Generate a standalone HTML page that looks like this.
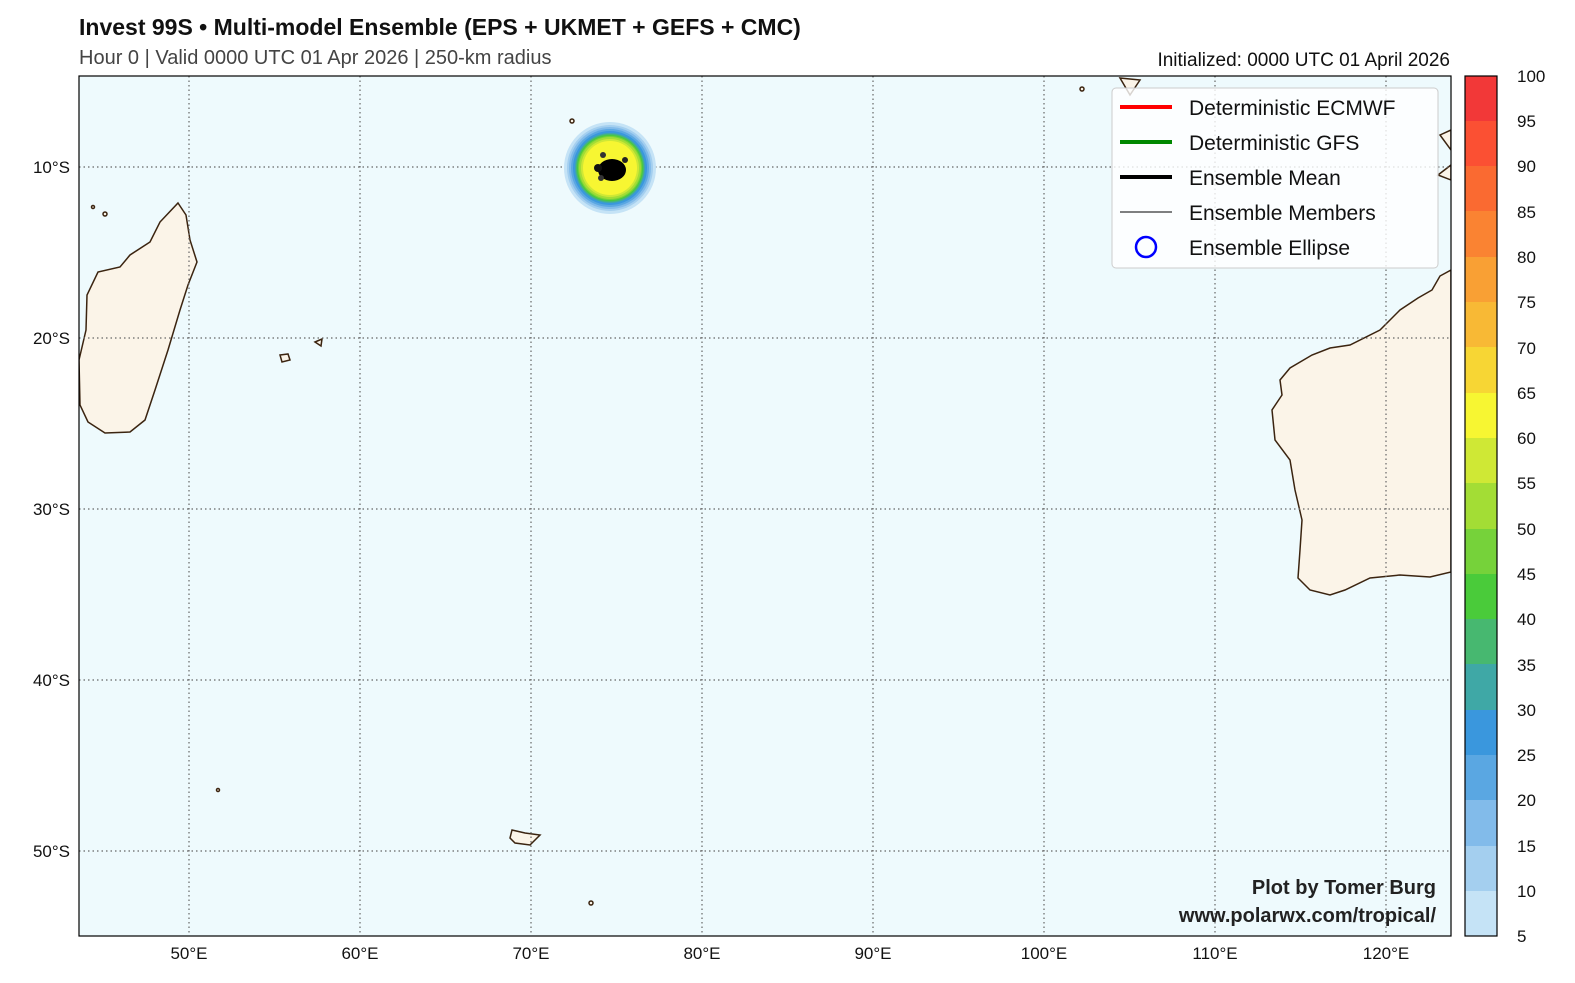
<!DOCTYPE html>
<html><head><meta charset="utf-8"><style>
body{margin:0;background:#fff;width:1575px;height:978px;overflow:hidden;font-family:"Liberation Sans","DejaVu Sans",sans-serif;}
</style></head><body>
<svg width="1575" height="978" xmlns="http://www.w3.org/2000/svg" font-family="Liberation Sans, DejaVu Sans, sans-serif">
<text x="79" y="35" font-size="23" font-weight="bold" fill="#111">Invest 99S • Multi-model Ensemble (EPS + UKMET + GEFS + CMC)</text>
<text x="79" y="64" font-size="20" fill="#444">Hour 0 | Valid 0000 UTC 01 Apr 2026 | 250-km radius</text>
<text x="1450" y="66" font-size="19" fill="#111" text-anchor="end">Initialized: 0000 UTC 01 April 2026</text>
<defs><clipPath id="c"><rect x="79" y="76" width="1372" height="860"/></clipPath></defs>
<rect x="79" y="76" width="1372" height="860" fill="#eefafd"/>
<g clip-path="url(#c)" fill="#fbf4e8" stroke="#3b2410" stroke-width="1.5">
<path d="M178,203 L186,215 L190,240 L197,262 L188,285 L180,310 L168,350 L155,390 L145,420 L130,432 L105,433 L88,422 L80,405 L79,360 L86,330 L87,295 L98,272 L120,267 L130,255 L150,242 L160,222 Z"/>
<path d="M1451,270 L1440,276 L1432,290 L1418,298 L1400,310 L1380,330 L1350,345 L1330,348 L1312,355 L1290,368 L1280,380 L1282,395 L1272,410 L1275,440 L1290,460 L1295,490 L1302,520 L1300,550 L1298,578 L1310,590 L1330,595 L1345,590 L1370,578 L1400,575 L1430,577 L1451,572 Z"/>
<path d="M280,355 L288,354 L290,360 L282,362 Z"/>
<path d="M315,342 L322,339 L321,346 Z"/>
<path d="M512,830 L525,833 L540,835 L530,845 L515,843 L510,838 Z"/>
<path d="M1120,78 L1140,80 L1130,95 Z"/>
<path d="M1440,135 L1451,130 L1451,150 Z"/>
<path d="M1438,175 L1451,165 L1451,180 Z"/>
<circle cx="218" cy="790" r="1.5"/><circle cx="591" cy="903" r="2"/><circle cx="572" cy="121" r="2"/>
<circle cx="93" cy="207" r="1.5"/><circle cx="105" cy="214" r="2"/><circle cx="1082" cy="89" r="2"/>
</g>
<g stroke="#666" stroke-width="1.2" stroke-dasharray="1.5,3">
<line x1="189" y1="76" x2="189" y2="936"/><line x1="360" y1="76" x2="360" y2="936"/><line x1="531" y1="76" x2="531" y2="936"/><line x1="702" y1="76" x2="702" y2="936"/><line x1="873" y1="76" x2="873" y2="936"/><line x1="1044" y1="76" x2="1044" y2="936"/><line x1="1215" y1="76" x2="1215" y2="936"/><line x1="1386" y1="76" x2="1386" y2="936"/>
<line x1="79" y1="167" x2="1451" y2="167"/><line x1="79" y1="338" x2="1451" y2="338"/><line x1="79" y1="509" x2="1451" y2="509"/><line x1="79" y1="680" x2="1451" y2="680"/><line x1="79" y1="851" x2="1451" y2="851"/>
</g>
<g>
<circle cx="610" cy="168" r="46" fill="#c5e3f6"/>
<circle cx="610" cy="168" r="43" fill="#a4cfef"/>
<circle cx="610" cy="168" r="41" fill="#82bbea"/>
<circle cx="610" cy="168" r="39" fill="#5aa7e2"/>
<circle cx="610" cy="168" r="37" fill="#3a97dd"/>
<circle cx="610" cy="168" r="35" fill="#3fa8a6"/>
<circle cx="610" cy="168" r="34" fill="#47b870"/>
<circle cx="610" cy="168" r="33" fill="#4acb3a"/>
<circle cx="610" cy="168" r="32" fill="#76d23a"/>
<circle cx="610" cy="168" r="31" fill="#a3dd35"/>
<circle cx="610" cy="168" r="29" fill="#cfe835"/>
<circle cx="610" cy="168" r="27" fill="#f7f632"/>
<ellipse cx="612" cy="170" rx="14" ry="11" fill="#000"/>
<circle cx="603" cy="155" r="3" fill="#333"/><circle cx="625" cy="160" r="3" fill="#222"/><circle cx="601" cy="178" r="3" fill="#333"/><circle cx="598" cy="168" r="4" fill="#111"/>
</g>
<rect x="79" y="76" width="1372" height="860" fill="none" stroke="#000" stroke-width="1.2"/>
<rect x="1112" y="88" width="326" height="180" rx="4" fill="#fff" fill-opacity="0.8" stroke="#ccc"/>
<g font-size="21" fill="#111">
<line x1="1120" y1="107" x2="1172" y2="107" stroke="#f00" stroke-width="4"/><text x="1189" y="115">Deterministic ECMWF</text>
<line x1="1120" y1="142" x2="1172" y2="142" stroke="#080" stroke-width="4"/><text x="1189" y="150">Deterministic GFS</text>
<line x1="1120" y1="177" x2="1172" y2="177" stroke="#000" stroke-width="4"/><text x="1189" y="185">Ensemble Mean</text>
<line x1="1120" y1="212" x2="1172" y2="212" stroke="#000" stroke-width="1"/><text x="1189" y="220">Ensemble Members</text>
<circle cx="1146" cy="247" r="10" fill="none" stroke="#00f" stroke-width="2.5"/><text x="1189" y="255">Ensemble Ellipse</text>
</g>
<g font-size="20" font-weight="bold" fill="#222" text-anchor="end">
<text x="1436" y="894">Plot by Tomer Burg</text><text x="1436" y="922">www.polarwx.com/tropical/</text>
</g>
<g font-size="17" fill="#111" text-anchor="middle">
<text x="189" y="959">50°E</text><text x="360" y="959">60°E</text><text x="531" y="959">70°E</text><text x="702" y="959">80°E</text><text x="873" y="959">90°E</text><text x="1044" y="959">100°E</text><text x="1215" y="959">110°E</text><text x="1386" y="959">120°E</text>
</g>
<g font-size="17" fill="#111" text-anchor="end">
<text x="70" y="173">10°S</text><text x="70" y="344">20°S</text><text x="70" y="515">30°S</text><text x="70" y="686">40°S</text><text x="70" y="857">50°S</text>
</g>
<g>
<rect x="1465" y="76" width="32" height="46" fill="#f23838"/>
<rect x="1465" y="121" width="32" height="46" fill="#fb5033"/>
<rect x="1465" y="166" width="32" height="46" fill="#fa6a31"/>
<rect x="1465" y="211" width="32" height="46" fill="#fa8332"/>
<rect x="1465" y="257" width="32" height="46" fill="#f9a034"/>
<rect x="1465" y="302" width="32" height="46" fill="#f8b935"/>
<rect x="1465" y="347" width="32" height="46" fill="#f7d634"/>
<rect x="1465" y="393" width="32" height="46" fill="#f7f632"/>
<rect x="1465" y="438" width="32" height="46" fill="#cfe835"/>
<rect x="1465" y="483" width="32" height="46" fill="#a3dd35"/>
<rect x="1465" y="529" width="32" height="46" fill="#76d23a"/>
<rect x="1465" y="574" width="32" height="46" fill="#4acb3a"/>
<rect x="1465" y="619" width="32" height="46" fill="#47b870"/>
<rect x="1465" y="664" width="32" height="46" fill="#3fa8a6"/>
<rect x="1465" y="710" width="32" height="46" fill="#3a97dd"/>
<rect x="1465" y="755" width="32" height="46" fill="#5aa7e2"/>
<rect x="1465" y="800" width="32" height="46" fill="#82bbea"/>
<rect x="1465" y="846" width="32" height="46" fill="#a4cfef"/>
<rect x="1465" y="891" width="32" height="45" fill="#c5e3f6"/>
<rect x="1465" y="76" width="32" height="860" fill="none" stroke="#000" stroke-width="1.2"/>
</g>
<g font-size="17" fill="#111">
<text x="1517" y="82">100</text><text x="1517" y="127">95</text><text x="1517" y="172">90</text><text x="1517" y="218">85</text><text x="1517" y="263">80</text><text x="1517" y="308">75</text><text x="1517" y="354">70</text><text x="1517" y="399">65</text><text x="1517" y="444">60</text><text x="1517" y="489">55</text><text x="1517" y="535">50</text><text x="1517" y="580">45</text><text x="1517" y="625">40</text><text x="1517" y="671">35</text><text x="1517" y="716">30</text><text x="1517" y="761">25</text><text x="1517" y="806">20</text><text x="1517" y="852">15</text><text x="1517" y="897">10</text><text x="1517" y="942">5</text>
</g>
</svg>
</body></html>
